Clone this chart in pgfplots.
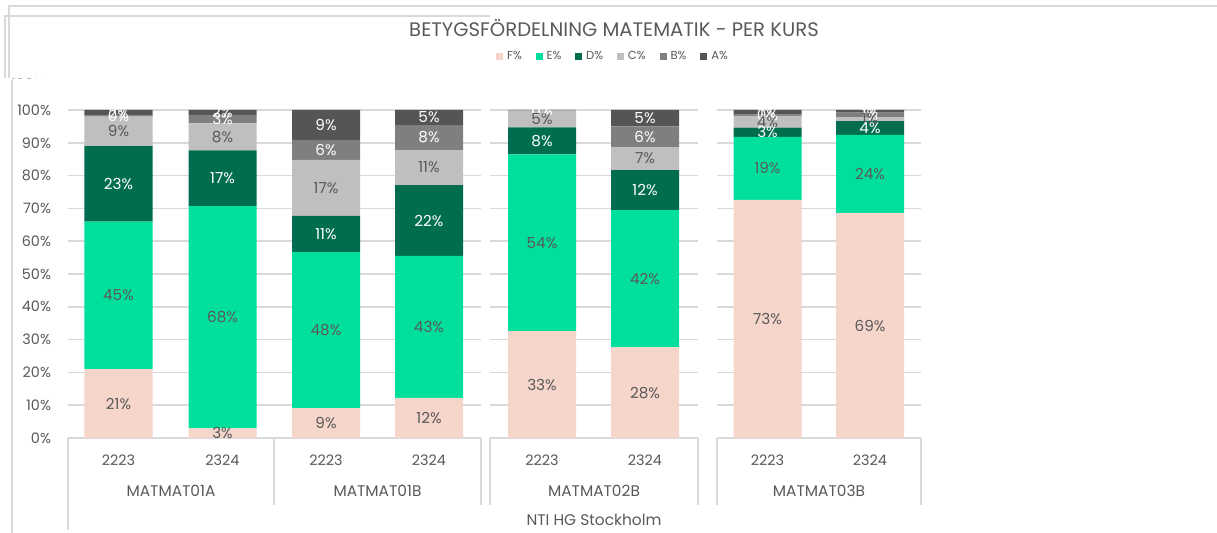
\documentclass[border=0pt]{standalone}
\usepackage{pgfplots}
\pgfplotsset{compat=1.18}
\usepackage{pgfplotstable}
\usepackage{fontspec}
\setmainfont{Poppins}
\definecolor{cF}{HTML}{F6D5CA}
\definecolor{cE}{HTML}{00E09C}
\definecolor{cD}{HTML}{006E4E}
\definecolor{cC}{HTML}{BFBFBF}
\definecolor{cB}{HTML}{7F7F7F}
\definecolor{cA}{HTML}{555555}
\definecolor{txt}{HTML}{595959}
\definecolor{gridc}{HTML}{D9D9D9}
\pgfplotstableread{
x     F    E    D    C    B   A
118.5 21.0 45.0 23.0 9.0  0.3 1.7
222.5 2.9  67.8 17.0 8.2  2.6 1.5
326   9.1  47.6 11.0 17.1 6.1 9.1
429   12.2 43.3 21.6 10.7 7.6 4.6
542   32.6 53.9 8.2  5.1  0.1 0.1
645   27.6 41.9 12.2 7.0  6.3 5.0
767.5 72.6 19.2 2.8  3.6  0.4 1.4
870   68.6 23.8 4.2  1.2  1.4 0.8
}\data
\newcommand{\lblfont}{\fontsize{7.2}{8}\selectfont}
\newcommand{\barfont}{\fontsize{7.6}{8}\selectfont}
\newcommand{\catfont}{\fontsize{7.7}{8.5}\selectfont}
\begin{document}
\begin{tikzpicture}
\begin{scope}[x=0.5pt,y=-0.5pt,shift={(0pt,266.5pt)}]
  % frame artefacts
  \draw[gridc,line width=0.6pt] (9,78) -- (9,6) -- (1217,6);
  \draw[gridc,line width=0.6pt] (5,78) -- (5,16) -- (490,16);
  \draw[gridc,line width=0.6pt] (12,80) -- (12,533);
  \begin{scope}
    \clip (10,70) rectangle (80,79);
    \node[text=txt,font=\lblfont,anchor=east] at (52,84) {100\%};
  \end{scope}
  % grid lines
  \foreach \k in {0,...,10} {
    \pgfmathsetmacro\yy{438-32.8*\k}
    \draw[gridc,line width=0.8pt] (68,\yy) -- (481,\yy) (490,\yy) -- (698,\yy) (717,\yy) -- (921,\yy);
  }
  % category axis lines
  \draw[gridc,line width=0.8pt] (68,438) -- (68,530);
  \foreach \xx in {274,481,490,698,717,921} {
    \draw[gridc,line width=0.8pt] (\xx,438) -- (\xx,505);
  }
  % title
  \node[text=txt,font=\fontsize{9.8}{11}\selectfont] at (614,28) {BETYGSFÖRDELNING MATEMATIK - PER KURS};
  % category labels
  \foreach \xx in {118.5,326,542,767.5} {\node[text=txt,font=\lblfont] at (\xx,460) {2223};}
  \foreach \xx in {222.5,429,645,870} {\node[text=txt,font=\lblfont] at (\xx,460) {2324};}
  \node[text=txt,font=\catfont] at (171,491) {MATMAT01A};
  \node[text=txt,font=\catfont] at (377.5,491) {MATMAT01B};
  \node[text=txt,font=\catfont] at (594,491) {MATMAT02B};
  \node[text=txt,font=\catfont] at (819,491) {MATMAT03B};
  \node[text=txt,font=\catfont] at (594,520) {NTI HG Stockholm};
\end{scope}
\begin{axis}[
  at={(34pt,47.5pt)}, anchor=south west,
  scale only axis, width=426pt, height=164pt,
  xmin=68, xmax=920, ymin=0, ymax=100,
  ybar stacked, bar width=68,
  axis line style={draw=none}, tick style={draw=none},
  xtick=\empty, ytick={0,10,...,100},
  yticklabel={\pgfmathprintnumber{\tick}\%},
  yticklabel style={font=\lblfont, text=txt, xshift=-5pt},
  /pgf/number format/assume math mode=true,
  clip=false,
  legend columns=6,
  legend style={at={(0.641,1.162)}, anchor=center, draw=none, fill=none,
    font=\fontsize{5.8}{6.5}\selectfont, text=txt,
    /tikz/every even column/.append style={column sep=5pt}},
  legend image code/.code={\fill[#1] (0pt,-1.7pt) rectangle (3.4pt,1.7pt);},
  nodes near coords={\pgfmathprintnumber[fixed,precision=0]{\pgfplotspointmeta}\%},
  every node near coord/.append style={font=\barfont, anchor=center},
]
\addplot[fill=cF, draw=none, point meta=\thisrow{F},
  every node near coord/.append style={text=txt}] table[x=x,y=F]{\data};
\addlegendentry{F\%}
\addplot[fill=cE, draw=none, point meta=\thisrow{E},
  every node near coord/.append style={text=txt}] table[x=x,y=E]{\data};
\addlegendentry{E\%}
\addplot[fill=cD, draw=none, point meta=\thisrow{D},
  every node near coord/.append style={text=white}] table[x=x,y=D]{\data};
\addlegendentry{D\%}
\addplot[fill=cC, draw=none, point meta=\thisrow{C},
  every node near coord/.append style={text=txt}] table[x=x,y=C]{\data};
\addlegendentry{C\%}
\addplot[fill=cB, draw=none, point meta=\thisrow{B},
  every node near coord/.append style={text=white}] table[x=x,y=B]{\data};
\addlegendentry{B\%}
\addplot[fill=cA, draw=none, point meta=\thisrow{A},
  every node near coord/.append style={text=white}] table[x=x,y=A]{\data};
\addlegendentry{A\%}
\end{axis}
\pgfresetboundingbox
\path (0,0) rectangle (608.5pt,266.5pt);
\end{tikzpicture}
\end{document}
